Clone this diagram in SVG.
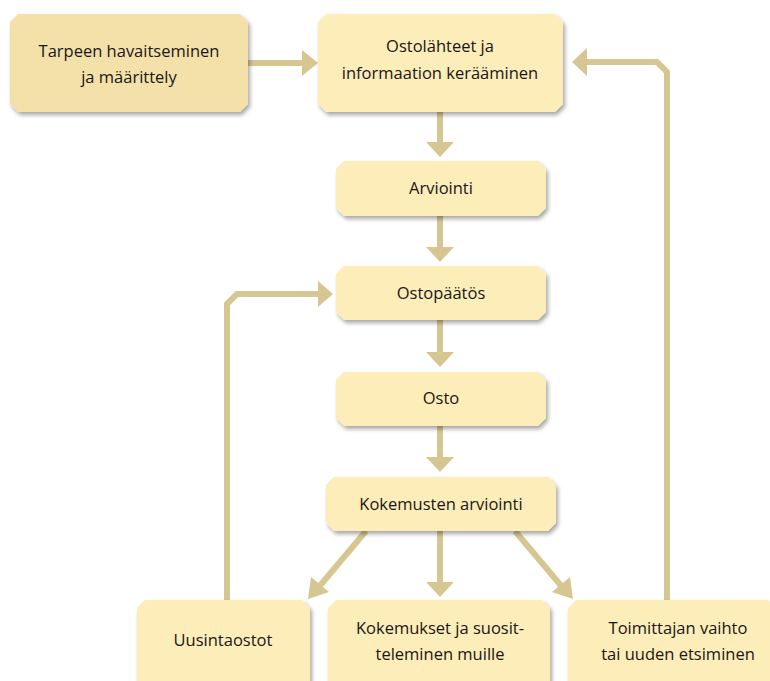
<svg xmlns="http://www.w3.org/2000/svg" width="770" height="681" viewBox="0 0 770 681">
<defs>
<filter id="sh" x="-10%" y="-10%" width="130%" height="140%">
<feGaussianBlur in="SourceAlpha" stdDeviation="2"/>
<feOffset dx="2" dy="3" result="b"/>
<feComponentTransfer><feFuncA type="linear" slope="0.35"/></feComponentTransfer>
<feMerge><feMergeNode/><feMergeNode in="SourceGraphic"/></feMerge>
</filter>
</defs>
<style>
.box{fill:#fdedb9;filter:url(#sh)}
.box1{fill:#f3e1a9;filter:url(#sh)}
.t{font-family:"Open Sans","Liberation Sans",sans-serif;font-size:16.5px;font-weight:500;fill:#1a1616;text-anchor:middle}
.ln{fill:none;stroke:#d6c692;stroke-width:6}
.hd{fill:#d6c692}
</style>
<rect width="770" height="681" fill="#ffffff"/>
<g id="connectors">
<line class="ln" x1="248" y1="63" x2="303" y2="63"/>
<polygon class="hd" points="302,50 318,63 302,76"/>
<line class="ln" x1="440" y1="112" x2="440" y2="144"/>
<polygon class="hd" points="426,142 454,142 440,157"/>
<line class="ln" x1="440" y1="216" x2="440" y2="249"/>
<polygon class="hd" points="426,247 454,247 440,262"/>
<line class="ln" x1="440" y1="320" x2="440" y2="354"/>
<polygon class="hd" points="426,352 454,352 440,367"/>
<line class="ln" x1="440" y1="426" x2="440" y2="459"/>
<polygon class="hd" points="426,457 454,457 440,472"/>
<line class="ln" x1="440" y1="531" x2="440" y2="584"/>
<polygon class="hd" points="426,582 454,582 440,597"/>
<line class="ln" x1="366" y1="531" x2="318" y2="588"/>
<polygon class="hd" points="308,599 311,577 329,592"/>
<line class="ln" x1="515" y1="531" x2="563" y2="588"/>
<polygon class="hd" points="573,599 552,592 570,577"/>
<polyline class="ln" points="227,600 227,304 237,294 320,294"/>
<polygon class="hd" points="318,281 333,294 318,307"/>
<polyline class="ln" points="667,600 667,72 657,62 586,62"/>
<polygon class="hd" points="587,48 572,62 587,76"/>
</g>
<g id="n1">
<polygon class="box1" points="18,14 240,14 248,22 248,104 240,112 18,112 10,104 10,22"/>
<text class="t" x="129" y="57">Tarpeen havaitseminen</text>
<text class="t" x="129" y="83">ja määrittely</text>
</g>
<g id="n2">
<polygon class="box" points="326,14 555,14 563,22 563,104 555,112 326,112 318,104 318,22"/>
<text class="t" x="440" y="52">Ostolähteet ja</text>
<text class="t" x="440" y="79">informaation kerääminen</text>
</g>
<g id="n3">
<polygon class="box" points="344,161 538,161 546,169 546,208 538,216 344,216 336,208 336,169"/>
<text class="t" x="441" y="194">Arviointi</text>
</g>
<g id="n4">
<polygon class="box" points="344,266 538,266 546,274 546,312 538,320 344,320 336,312 336,274"/>
<text class="t" x="441" y="299">Ostopäätös</text>
</g>
<g id="n5">
<polygon class="box" points="344,372 538,372 546,380 546,418 538,426 344,426 336,418 336,380"/>
<text class="t" x="441" y="404">Osto</text>
</g>
<g id="n6">
<polygon class="box" points="334,477 548,477 556,485 556,523 548,531 334,531 326,523 326,485"/>
<text class="t" x="441" y="510">Kokemusten arviointi</text>
</g>
<g id="n7">
<polygon class="box" points="145,600 302,600 310,608 310,690 137,690 137,608"/>
<text class="t" x="223" y="646">Uusintaostot</text>
</g>
<g id="n8">
<polygon class="box" points="336,600 542,600 550,608 550,690 328,690 328,608"/>
<text class="t" x="440" y="634">Kokemukset ja suosit-</text>
<text class="t" x="440" y="660">teleminen muille</text>
</g>
<g id="n9">
<polygon class="box" points="576,600 768,600 776,608 776,690 568,690 568,608"/>
<text class="t" x="678" y="634">Toimittajan vaihto</text>
<text class="t" x="678" y="660">tai uuden etsiminen</text>
</g>
</svg>
